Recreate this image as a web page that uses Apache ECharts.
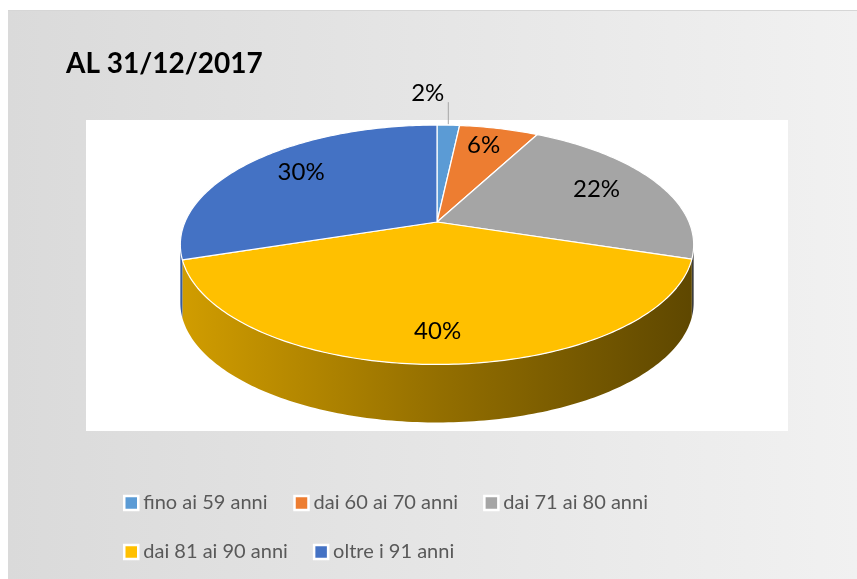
<!DOCTYPE html>
<html>
<head>
<meta charset="utf-8">
<script src="https://cdn.jsdelivr.net/npm/echarts@6/dist/echarts.min.js"></script>
<style>
  html, body { margin: 0; padding: 0; background: #fff; }
  #chart { width: 857px; height: 579px; }
</style>
</head>
<body>
<div id="chart"></div>
<script>
// dati
const categories = ['fino ai 59 anni', 'dai 60 ai 70 anni', 'dai 71 ai 80 anni', 'dai 81 ai 90 anni', 'oltre i 91 anni']
const values = [1.7, 6.0, 22.2, 40.1, 30.0]
const colors = ['#5b9bd5', '#ed7d31', '#a5a5a5', '#ffc000', '#4472c4']
const titleText = 'AL 31/12/2017'

// geometria della torta 3D (prospettiva semplice)
const cx = 437, cy = 222
const rx = 252, ry = 115.4
const persp = 0.19
const depth = 58
const labelRx = 0.72, labelRy = 0.8

const total = values.reduce((s, v) => s + v, 0)
const starts = []
let acc = 0
values.forEach(v => { starts.push(acc / total * Math.PI * 2); acc += v })

const proj = (t, r) => {
  const u = r * Math.cos(t)
  const k = 1 + persp * u
  return [cx + rx * r * Math.sin(t) / k, cy - ry * u / k]
}

const arc = (t0, t1) => {
  const n = Math.max(2, Math.ceil((t1 - t0) * 60))
  const pts = []
  for (let i = 0; i <= n; i++) pts.push(proj(t0 + (t1 - t0) * i / n, 1))
  return pts
}

const shade = (hex, f) => {
  const n = parseInt(hex.slice(1), 16)
  const c = [(n >> 16) & 255, (n >> 8) & 255, n & 255].map(v => Math.round(v * f))
  return 'rgb(' + c.join(',') + ')'
}

// lato visibile della parete
const tVis = Math.acos(-persp)

const renderSlice = (params, api) => {
  const i = params.seriesIndex
  const t0 = starts[i]
  const t1 = t0 + values[i] / total * Math.PI * 2
  const children = []

  // parete frontale
  const w0 = Math.max(t0, tVis), w1 = Math.min(t1, Math.PI * 2 - tVis)
  if (w1 > w0) {
    const top = arc(w0, w1)
    const bottom = top.map(p => [p[0], p[1] + depth]).reverse()
    children.push({
      type: 'polygon',
      z2: 1,
      shape: { points: top.concat(bottom) },
      style: {
        fill: {
          type: 'linear', global: true,
          x: cx - rx * 1.02, y: 0, x2: cx + rx * 1.02, y2: 0,
          colorStops: [
            { offset: 0, color: shade(colors[i], 0.82) },
            { offset: 0.5, color: shade(colors[i], 0.58) },
            { offset: 1, color: shade(colors[i], 0.37) }
          ]
        }
      }
    })
  }

  // faccia superiore
  children.push({
    type: 'polygon',
    z2: 10,
    shape: { points: [[cx, cy]].concat(arc(t0, t1)) },
    style: { fill: colors[i], stroke: '#fff', lineWidth: 1.2, lineJoin: 'round' }
  })

  // etichetta
  const pct = Math.round(values[i] / total * 100) + '%'
  const mid = (t0 + t1) / 2
  if (values[i] / total < 0.03) {
    const p = proj(mid, 1)
    children.push({
      type: 'line', z2: 20,
      shape: { x1: p[0], y1: p[1] - 1, x2: p[0], y2: p[1] - 23 },
      style: { stroke: '#a6a6a6', lineWidth: 1 }
    })
    children.push({
      type: 'text', z2: 20,
      style: {
        text: pct, x: p[0] - 4, y: p[1] - 32, align: 'right', verticalAlign: 'middle',
        fill: '#000', fontSize: 24, fontFamily: 'Lato'
      }
    })
  } else {
    const px = proj(mid, labelRx)[0]
    const py = proj(mid, labelRy)[1]
    children.push({
      type: 'text', z2: 20,
      style: {
        text: pct, x: px, y: py, align: 'center', verticalAlign: 'middle',
        fill: '#000', fontSize: 24, fontFamily: 'Lato'
      }
    })
  }
  return { type: 'group', children }
}

const chart = echarts.init(document.getElementById('chart'))

chart.setOption({
  animation: false,
  color: colors,
  title: {
    text: titleText,
    left: 66,
    top: 50,
    padding: 0,
    textStyle: { fontFamily: 'Lato', fontWeight: 'bold', fontSize: 28, color: '#000' }
  },
  legend: {
    data: categories,
    left: 123,
    top: 491,
    width: 600,
    padding: 0,
    icon: 'rect',
    itemWidth: 14,
    itemHeight: 14,
    itemGap: 25,
    itemStyle: { borderColor: '#fff', borderWidth: 2.5 },
    textStyle: { fontFamily: 'Lato', fontSize: 20, color: '#595959', width: 125, lineHeight: 24 }
  },
  graphic: [
    {
      type: 'rect', z: -10, silent: true,
      shape: { x: 8, y: 10, width: 849, height: 569 },
      style: {
        fill: {
          type: 'linear', x: 0, y: 0, x2: 1, y2: 0,
          colorStops: [{ offset: 0, color: '#dadada' }, { offset: 1, color: '#f1f1f1' }]
        }
      }
    },
    {
      type: 'rect', z: -9, silent: true,
      shape: { x: 8, y: 10, width: 849, height: 1 },
      style: { fill: '#d6d6d6' }
    },
    {
      type: 'rect', z: -8, silent: true,
      shape: { x: 86, y: 120, width: 702, height: 311 },
      style: { fill: '#fff' }
    }
  ],
  series: categories.map((name, i) => ({
    name,
    type: 'custom',
    coordinateSystem: 'none',
    silent: true,
    itemStyle: { color: colors[i] },
    data: [[values[i]]],
    renderItem: renderSlice
  }))
})

window.addEventListener('resize', () => chart.resize())
</script>
</body>
</html>
